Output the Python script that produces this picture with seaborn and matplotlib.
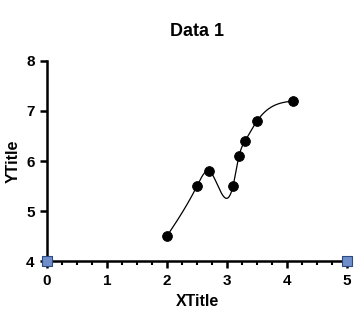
import numpy as np
import pandas as pd
import matplotlib
matplotlib.use("Agg")
import matplotlib.pyplot as plt
import seaborn as sns
from matplotlib.ticker import MultipleLocator

x_vals = [2.0, 2.5, 2.7, 3.1, 3.2, 3.3, 3.5, 4.1]
y_vals = [4.5, 5.5, 5.8, 5.5, 6.1, 6.4, 6.8, 7.2]
sq_x = [0, 5]
sq_y = [4, 4]


def natural_spline(x, y, n=400):
    x = np.asarray(x, float); y = np.asarray(y, float)
    k = len(x); h = np.diff(x)
    A = np.zeros((k, k)); b = np.zeros(k)
    A[0, 0] = 1; A[-1, -1] = 1
    for i in range(1, k - 1):
        A[i, i - 1] = h[i - 1]; A[i, i] = 2 * (h[i - 1] + h[i]); A[i, i + 1] = h[i]
        b[i] = 3 * ((y[i + 1] - y[i]) / h[i] - (y[i] - y[i - 1]) / h[i - 1])
    c = np.linalg.solve(A, b)
    xs = np.linspace(x[0], x[-1], n); ys = np.empty_like(xs)
    for j, t in enumerate(xs):
        i = min(np.searchsorted(x, t, side="right") - 1, k - 2)
        d = t - x[i]
        bb = (y[i + 1] - y[i]) / h[i] - h[i] * (2 * c[i] + c[i + 1]) / 3
        dd = (c[i + 1] - c[i]) / (3 * h[i])
        ys[j] = y[i] + bb * d + c[i] * d ** 2 + dd * d ** 3
    return xs, ys


sns.set_style("ticks")
plt.rcParams["font.family"] = ["Liberation Sans", "DejaVu Sans"]
plt.rcParams["font.weight"] = "bold"
for k in ["text.color", "axes.labelcolor", "xtick.color", "ytick.color", "axes.edgecolor"]:
    plt.rcParams[k] = "black"

fig = plt.figure(figsize=(3.6, 3.18), dpi=100)
ax = fig.add_axes([0.1306, 0.1792, 0.8333, 0.629])

sx, sy = natural_spline(x_vals, y_vals)
sns.lineplot(x=sx, y=sy, ax=ax, color="black", lw=0.9, sort=False)
sns.scatterplot(x=x_vals, y=y_vals, ax=ax, color="black", s=50, edgecolor="black", zorder=3)
sns.scatterplot(x=sq_x, y=sq_y, ax=ax, marker="s", color="#6f8fcc", s=60,
                edgecolor="#2e4a80", linewidth=0.8, zorder=4, clip_on=False)

ax.set_xlim(0, 5)
ax.set_ylim(4, 8)
ax.xaxis.set_major_locator(MultipleLocator(1))
ax.xaxis.set_minor_locator(MultipleLocator(0.25))
ax.yaxis.set_major_locator(MultipleLocator(1))
sns.despine(ax=ax)
for s in ["left", "bottom"]:
    ax.spines[s].set_linewidth(1.8)
    ax.spines[s].set_color("black")
ax.tick_params(axis="both", which="major", width=1.8, length=5, labelsize=11, pad=4,
               colors="black")
ax.tick_params(axis="x", which="minor", width=1.5, length=3, colors="black")
for lab in ax.get_xticklabels() + ax.get_yticklabels():
    lab.set_fontweight("bold")

ax.set_title("Data 1", fontsize=13, fontweight="bold", pad=18, color="black")
ax.set_xlabel("XTitle", fontsize=11.5, fontweight="bold", labelpad=5, color="black")
ax.set_ylabel("YTitle", fontsize=11.5, fontweight="bold", labelpad=4, color="black")

fig.savefig("out.png", dpi=100)
